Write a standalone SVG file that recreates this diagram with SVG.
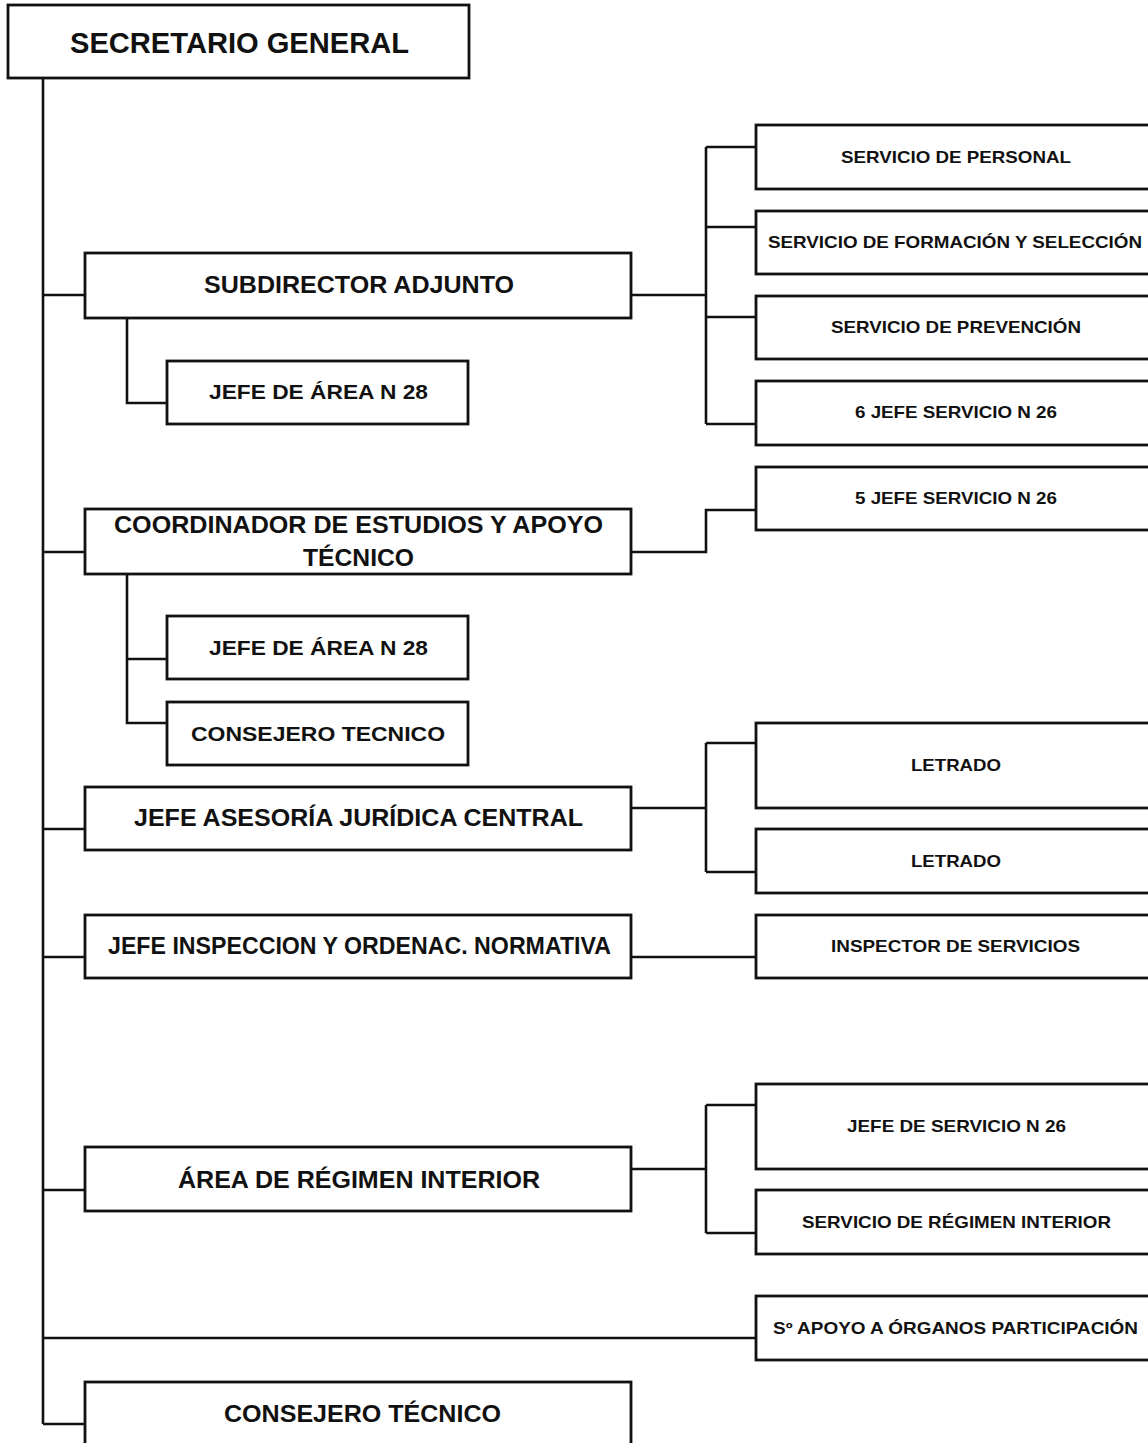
<svg xmlns="http://www.w3.org/2000/svg" width="1148" height="1443" viewBox="0 0 1148 1443">
<style>
.box{fill:#fff;stroke:#111;stroke-width:2.8}
.ln{fill:none;stroke:#111;stroke-width:2.6}
text{font-family:"Liberation Sans",Arial,sans-serif;font-weight:bold;fill:#111;text-anchor:middle}
.t0{font-size:29px}
.t1{font-size:23.5px}
.t2{font-size:20.5px}
.t3{font-size:16.5px}
</style>
<rect width="1148" height="1443" fill="#fff"/>
<g id="connectors">
<path class="ln" d="M43,78 V1424"/>
<path class="ln" d="M43,295 H85 M43,552 H85 M43,829 H85 M43,957 H85 M43,1190 H85 M43,1338 H756 M43,1424 H85"/>
<path class="ln" d="M127,318 V403 H167"/>
<path class="ln" d="M127,574 V723 H167 M127,659 H167"/>
<path class="ln" d="M631,295 H706 M706,147 V424 M706,147 H756 M706,227 H756 M706,317 H756 M706,424 H756"/>
<path class="ln" d="M631,552 H706 V510 H756"/>
<path class="ln" d="M631,808 H706 M706,743 V872 M706,743 H756 M706,872 H756"/>
<path class="ln" d="M631,957 H756"/>
<path class="ln" d="M631,1169 H706 M706,1105 V1233 M706,1105 H756 M706,1233 H756"/>
</g>
<g id="secretario"><rect class="box" x="8" y="5" width="461" height="73"/><text class="t0" x="239.5" y="53" textLength="339" lengthAdjust="spacingAndGlyphs">SECRETARIO GENERAL</text></g>
<g id="subdirector"><rect class="box" x="85" y="253" width="546" height="65"/><text class="t1" x="359" y="293" textLength="310" lengthAdjust="spacingAndGlyphs">SUBDIRECTOR ADJUNTO</text></g>
<g id="jefe-area-1"><rect class="box" x="167" y="361" width="301" height="63"/><text class="t2" x="318.5" y="399" textLength="219" lengthAdjust="spacingAndGlyphs">JEFE DE ÁREA N 28</text></g>
<g id="serv-personal"><rect class="box" x="756" y="125" width="400" height="64"/><text class="t3" x="956" y="163" textLength="230" lengthAdjust="spacingAndGlyphs">SERVICIO DE PERSONAL</text></g>
<g id="serv-formacion"><rect class="box" x="756" y="211" width="400" height="63"/><text class="t3" x="955" y="248" textLength="374" lengthAdjust="spacingAndGlyphs">SERVICIO DE FORMACIÓN Y SELECCIÓN</text></g>
<g id="serv-prevencion"><rect class="box" x="756" y="296" width="400" height="63"/><text class="t3" x="956" y="333" textLength="250" lengthAdjust="spacingAndGlyphs">SERVICIO DE PREVENCIÓN</text></g>
<g id="jefe-serv-6"><rect class="box" x="756" y="381" width="400" height="64"/><text class="t3" x="956" y="418" textLength="202" lengthAdjust="spacingAndGlyphs">6 JEFE SERVICIO N 26</text></g>
<g id="jefe-serv-5"><rect class="box" x="756" y="467" width="400" height="63"/><text class="t3" x="956" y="504" textLength="202" lengthAdjust="spacingAndGlyphs">5 JEFE SERVICIO N 26</text></g>
<g id="coordinador"><rect class="box" x="85" y="509" width="546" height="65"/><text class="t1" x="358.5" y="533" textLength="489" lengthAdjust="spacingAndGlyphs">COORDINADOR DE ESTUDIOS Y APOYO</text><text class="t1" x="358.5" y="566" textLength="111" lengthAdjust="spacingAndGlyphs">TÉCNICO</text></g>
<g id="jefe-area-2"><rect class="box" x="167" y="616" width="301" height="63"/><text class="t2" x="318.5" y="655" textLength="219" lengthAdjust="spacingAndGlyphs">JEFE DE ÁREA N 28</text></g>
<g id="consejero-1"><rect class="box" x="167" y="702" width="301" height="63"/><text class="t2" x="318" y="741" textLength="254" lengthAdjust="spacingAndGlyphs">CONSEJERO TECNICO</text></g>
<g id="asesoria"><rect class="box" x="85" y="787" width="546" height="63"/><text class="t1" x="358.5" y="826" textLength="449" lengthAdjust="spacingAndGlyphs">JEFE ASESORÍA JURÍDICA CENTRAL</text></g>
<g id="letrado-1"><rect class="box" x="756" y="723" width="400" height="85"/><text class="t3" x="956" y="771" textLength="90" lengthAdjust="spacingAndGlyphs">LETRADO</text></g>
<g id="letrado-2"><rect class="box" x="756" y="829" width="400" height="64"/><text class="t3" x="956" y="867" textLength="90" lengthAdjust="spacingAndGlyphs">LETRADO</text></g>
<g id="inspeccion"><rect class="box" x="85" y="915" width="546" height="63"/><text class="t1" x="359.5" y="954" textLength="503" lengthAdjust="spacingAndGlyphs">JEFE INSPECCION Y ORDENAC. NORMATIVA</text></g>
<g id="inspector"><rect class="box" x="756" y="915" width="400" height="63"/><text class="t3" x="955.5" y="952" textLength="249" lengthAdjust="spacingAndGlyphs">INSPECTOR DE SERVICIOS</text></g>
<g id="regimen-interior"><rect class="box" x="85" y="1147" width="546" height="64"/><text class="t1" x="359" y="1188" textLength="362" lengthAdjust="spacingAndGlyphs">ÁREA DE RÉGIMEN INTERIOR</text></g>
<g id="jefe-servicio"><rect class="box" x="756" y="1084" width="400" height="85"/><text class="t3" x="956.5" y="1132" textLength="219" lengthAdjust="spacingAndGlyphs">JEFE DE SERVICIO N 26</text></g>
<g id="serv-regimen"><rect class="box" x="756" y="1190" width="400" height="64"/><text class="t3" x="956.5" y="1228" textLength="309" lengthAdjust="spacingAndGlyphs">SERVICIO DE RÉGIMEN INTERIOR</text></g>
<g id="apoyo-organos"><rect class="box" x="756" y="1296" width="400" height="64"/><text class="t3" x="955.5" y="1334" textLength="365" lengthAdjust="spacingAndGlyphs">Sº APOYO A ÓRGANOS PARTICIPACIÓN</text></g>
<g id="consejero-2"><rect class="box" x="85" y="1382" width="546" height="70"/><text class="t1" x="362.5" y="1422" textLength="277" lengthAdjust="spacingAndGlyphs">CONSEJERO TÉCNICO</text></g>
</svg>
